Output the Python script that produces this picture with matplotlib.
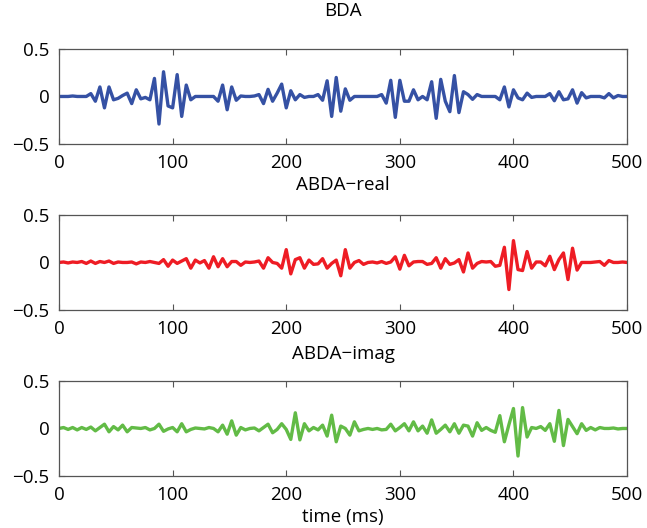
"""Three stacked traces: BDA, ABDA-real, ABDA-imag (amplitude vs time in ms)."""

import numpy as np
import matplotlib
matplotlib.use("Agg")
import matplotlib.pyplot as plt

plt.rcParams["font.family"] = ["Open Sans", "DejaVu Sans"]

# sample times (ms), one sample every 4 ms
t_start, t_stop, t_step = 0, 500, 4

titles = ["BDA", "ABDA\u2212real", "ABDA\u2212imag"]

# values, 10 samples per row
bda = [
    0, 0, 0, 0.005, 0, 0, 0, 0.03, -0.05, 0.1,            # 0-36
    -0.12, 0.1, -0.035, -0.02, 0.01, 0.035, -0.075, 0.07, -0.025, -0.01,  # 40-76
    -0.035, 0.19, -0.29, 0.26, -0.1, -0.12, 0.23, -0.21, 0.12, -0.035,    # 80-116
    0, 0, 0, 0, 0, -0.05, 0.12, -0.14, 0.1, -0.04,        # 120-156
    0.005, 0, 0, 0.005, 0.02, -0.075, 0.075, -0.05, 0.035, 0.13,          # 160-196
    -0.12, 0.06, -0.035, 0.02, -0.01, 0, 0, 0.02, -0.04, 0.165,           # 200-236
    -0.21, 0.2, -0.155, 0.08, -0.04, 0, 0, 0, 0, 0,        # 240-276
    0, 0.02, -0.07, 0.17, -0.22, 0.17, -0.05, -0.05, 0.07, -0.035,        # 280-316
    0, -0.035, 0.155, -0.23, 0.18, -0.05, -0.16, 0.22, -0.17, 0.05,       # 320-356
    0.02, -0.03, 0.02, 0, 0, 0, 0, -0.035, 0.1, -0.11,     # 360-396
    0.07, -0.015, -0.035, 0.035, -0.01, 0, 0, 0, 0.03, -0.045,            # 400-436
    0.05, -0.035, -0.025, 0.07, -0.07, 0.04, -0.015, 0, 0, 0,             # 440-476
    -0.015, 0.03, -0.015, 0.01, 0, 0,                      # 480-500
]

abda_real = [
    0, 0.005, -0.005, 0.005, 0, 0.01, -0.01, 0.015, -0.01, 0.01,          # 0-36
    0, 0.015, -0.01, 0.005, 0, 0, 0.005, -0.015, 0.005, 0,                # 40-76
    0.01, 0, -0.01, 0.03, -0.04, 0.025, -0.01, 0.015, 0.04, -0.06,        # 80-116
    0.025, -0.005, 0.02, -0.06, 0.06, -0.045, 0.04, -0.045, 0.01, 0.01,   # 120-156
    -0.03, 0.005, 0, 0.005, 0.015, -0.06, 0.05, 0, -0.01, -0.06,          # 160-196
    0.135, -0.12, 0.03, 0.05, -0.06, 0.025, -0.02, -0.015, 0.04, -0.06,   # 200-236
    -0.01, 0.025, -0.14, 0.135, -0.06, 0, 0.02, -0.02, 0, 0.005,          # 240-276
    -0.005, 0.01, -0.01, 0.005, 0.06, -0.07, 0.075, -0.035, 0.005, 0.01,  # 280-316
    0.01, -0.02, -0.01, 0.05, -0.06, 0.04, -0.02, -0.005, 0.03, -0.1,     # 320-356
    0.1, -0.06, -0.01, 0.01, 0.005, 0.01, -0.04, -0.03, 0.16, -0.285,     # 360-396
    0.23, -0.075, -0.085, 0.115, -0.06, 0.005, 0.005, -0.035, 0.065, -0.075,  # 400-436
    0.03, 0.1, -0.18, 0.15, -0.08, 0, 0, 0, 0.005, 0.01,                 # 440-476
    -0.03, 0.02, 0, 0, 0.005, 0,                           # 480-500
]

abda_imag = [
    0, 0.01, -0.01, 0.01, -0.015, 0.01, -0.01, 0.015, -0.025, 0.01,       # 0-36
    0.045, -0.035, 0.02, -0.015, 0.035, -0.035, 0.01, 0.005, 0, 0.01,     # 40-76
    -0.015, 0, 0.045, -0.03, -0.005, 0.01, -0.035, 0.05, -0.035, -0.01,   # 80-116
    0.005, 0, -0.005, 0.01, 0, -0.035, 0.035, -0.06, 0.08, -0.07,         # 120-156
    0.01, -0.015, 0, 0.005, -0.025, 0.01, 0.045, -0.045, -0.01, 0.05,     # 160-196
    -0.01, -0.115, 0.165, -0.12, 0.05, -0.025, 0.01, -0.015, 0.035, -0.08,  # 200-236
    0.14, -0.14, 0.025, 0, -0.07, 0.07, -0.025, -0.01, 0, -0.01,          # 240-276
    0, -0.015, -0.01, 0.045, -0.025, 0.01, 0.05, -0.025, 0.07, -0.025,    # 280-316
    0.025, -0.05, 0.09, -0.05, -0.01, 0.035, -0.035, 0.05, -0.05, 0.035,  # 320-356
    0.025, -0.08, 0.06, -0.02, 0.01, -0.02, -0.04, 0.135, -0.14, 0.04,    # 360-396
    0.21, -0.29, 0.22, -0.09, 0.01, 0, 0.02, -0.02, 0.05, -0.135,         # 400-436
    0.19, -0.18, 0.095, 0.02, -0.055, 0.05, -0.02, 0.01, -0.015, 0.01,    # 440-476
    0, 0, 0.005, -0.005, 0, 0,                             # 480-500
]

series = [bda, abda_real, abda_imag]
colors = ["#3551a4", "#ee1c24", "#62bb46"]

x_ticks = [0, 100, 200, 300, 400, 500]
y_ticks = [-0.5, 0, 0.5]

t = np.arange(t_start, t_stop + 1, t_step)

fig = plt.figure(figsize=(6.47, 5.28), dpi=100)
left, width, height = 0.0912, 0.878, 0.18
bottoms = [0.7273, 0.4129, 0.0985]
title_pads = [24, 18, 16]

for i, (y, title, col) in enumerate(zip(series, titles, colors)):
    ax = fig.add_axes([left, bottoms[i], width, height])
    ax.plot(t, y, color=col, lw=2.4, solid_joinstyle="round")
    ax.set_xlim(0, 500)
    ax.set_ylim(-0.5, 0.5)
    ax.set_xticks(x_ticks)
    ax.set_yticks(y_ticks)
    ax.set_yticklabels(["\u22120.5", "0", "0.5"])
    ax.tick_params(direction="in", length=4, width=0.8, color="#555555",
                   top=True, right=True, labelsize=13.5, pad=7)
    for sp in ax.spines.values():
        sp.set_color("#555555")
        sp.set_linewidth(0.9)
    ax.set_title(title, fontsize=13.5, pad=title_pads[i])
    if i == 2:
        ax.set_xlabel("time (ms)", fontsize=13.5, labelpad=3)

fig.savefig("out.png", dpi=100)
